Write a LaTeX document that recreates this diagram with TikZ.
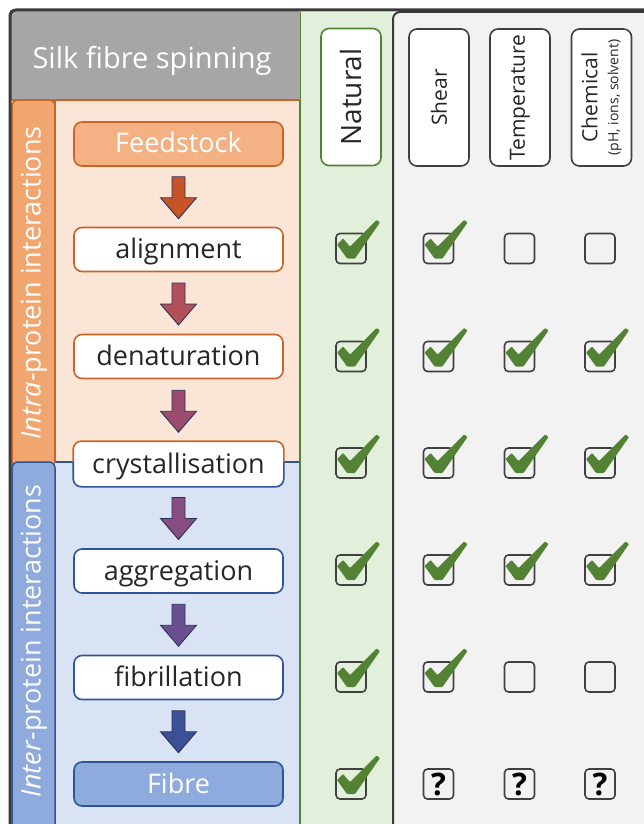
\documentclass[tikz,border=0pt]{standalone}
\usepackage{fontspec}
\setmainfont{Open Sans}
\usetikzlibrary{calc}
\definecolor{framedark}{RGB}{58,58,58}
\definecolor{headgrey}{RGB}{166,166,166}
\definecolor{striporange}{RGB}{241,166,112}
\definecolor{peach}{RGB}{251,229,214}
\definecolor{orangeline}{RGB}{200,100,40}
\definecolor{stripblue}{RGB}{143,170,220}
\definecolor{lightblue}{RGB}{218,227,243}
\definecolor{blueline}{RGB}{47,85,151}
\definecolor{lightgreen}{RGB}{226,239,218}
\definecolor{greenline}{RGB}{84,130,53}
\definecolor{rightgrey}{RGB}{242,242,242}
\definecolor{boxgrey}{RGB}{64,64,64}
\definecolor{textdark}{RGB}{38,38,38}
\definecolor{checkgreen}{RGB}{84,130,53}
\definecolor{feedfill}{RGB}{244,177,131}
\definecolor{fibrefill}{RGB}{143,170,220}
\definecolor{arrowline}{RGB}{40,50,90}
\definecolor{arA}{RGB}{197,85,40}
\definecolor{arB}{RGB}{178,80,90}
\definecolor{arC}{RGB}{155,75,110}
\definecolor{arD}{RGB}{135,78,130}
\definecolor{arE}{RGB}{105,80,145}
\definecolor{arF}{RGB}{60,80,150}
\newcommand\flowfont{\fontsize{27}{32}\selectfont}
\newcommand\mytick[1]{\fill[checkgreen, rounded corners=0.8pt] ($(#1)+(-14,-4)$) -- ($(#1)+(-8,-10)$) -- ($(#1)+(-1,-2)$) -- ($(#1)+(25.5,-28.5)$) -- ($(#1)+(29,-26)$) -- ($(#1)+(4,10)$) -- ($(#1)+(-4,10)$) -- cycle;}
\newcommand\flowarrow[3]{%
  \coordinate (m) at ($(#1.south)!0.5!(#2.north)$);
  \filldraw[fill=#3, draw=arrowline, line width=0.9pt, line join=miter]
    ($(m)+(-6.5,-20)$) -- ($(m)+(6.5,-20)$) -- ($(m)+(6.5,1)$) -- ($(m)+(18,1)$)
    -- ($(m)+(0,22)$) -- ($(m)+(-18,1)$) -- ($(m)+(-6.5,1)$) -- cycle;}
\tikzset{
  cbox/.style={draw=boxgrey, line width=1.6pt, rounded corners=4pt, minimum size=30pt, inner sep=0pt},
  flowbox/.style={draw, line width=1.6pt, rounded corners=8pt, minimum width=209pt, minimum height=44pt,
    fill=white, font=\flowfont, text=textdark, inner sep=0pt, text height=22pt, text depth=4pt},
  hdrbox/.style={rotate=90, draw=boxgrey, line width=1.6pt, rounded corners=8pt, minimum width=137pt,
    minimum height=60pt, fill=white, inner sep=0pt, text=textdark},
  sidelabel/.style={rotate=90, text=white, font=\fontsize{27}{32}\selectfont, inner sep=0pt},
  qmark/.style={font=\bfseries\fontsize{31}{34}\selectfont, text=black, inner sep=0pt},
}
\begin{document}
\begin{tikzpicture}[x=1pt,y=-1pt]
\useasboundingbox (0,0) rectangle (644,824);
% right grey area
\filldraw[fill=rightgrey, draw=framedark, line width=2pt, rounded corners=7pt] (393,12) rectangle (660,840);
% green column
\fill[lightgreen] (300,12) rectangle (392,840);
\draw[greenline, line width=2pt] (300,12) -- (300,840);
% header
\fill[headgrey] (10,10) rectangle (300,100);
\node[text=white, font=\fontsize{29}{34}\selectfont] (title) at (152,61) {Silk fibre spinning};
% orange region
\fill[peach] (55,100) rectangle (299,462);
\filldraw[fill=striporange, draw=orangeline, line width=1.5pt, rounded corners=6pt] (12,100) rectangle (55,470);
\fill[peach] (56,101) rectangle (299,462);
% blue region
\fill[lightblue] (55,462) rectangle (299,840);
\filldraw[fill=stripblue, draw=blueline, line width=1.5pt, rounded corners=6pt] (12,462) rectangle (55,850);
\fill[lightblue] (56,463) rectangle (299,840);
\draw[orangeline, line width=2pt] (12,100) -- (299,100);
\draw[blueline, line width=1.5pt] (55,462) -- (299,462);
\draw[orangeline, line width=1.5pt] (55,100) -- (55,462);
% outer frame
\draw[framedark, line width=3pt, rounded corners=6pt] (10,840) -- (10,10) -- (660,10);
% side labels
\node[sidelabel] (intra) at (34,283) {\textit{Intra}-protein interactions};
\node[sidelabel] (inter) at (34,641) {\textit{Inter}-protein interactions};
% flow boxes
\node[flowbox, draw=orangeline, fill=feedfill, text=white] (feed) at (178.5,144) {Feedstock};
\node[flowbox, draw=orangeline] (align) at (178.5,249.5) {alignment};
\node[flowbox, draw=orangeline] (denat) at (178.5,356.5) {denaturation};
\node[flowbox, draw=none] (cryst) at (178.5,464) {crystallisation};
\begin{scope}
  \clip (0,0) rectangle (644,462);
  \draw[orangeline, line width=1.6pt, rounded corners=8pt] (cryst.south west) rectangle (cryst.north east);
\end{scope}
\begin{scope}
  \clip (0,462) rectangle (644,824);
  \draw[blueline, line width=1.6pt, rounded corners=8pt] (cryst.south west) rectangle (cryst.north east);
\end{scope}
\node[flowbox, draw=blueline] (aggr) at (178.5,571) {aggregation};
\node[flowbox, draw=blueline] (fibril) at (178.5,677.5) {fibrillation};
\node[flowbox, draw=blueline, fill=fibrefill, text=white] (fibre) at (178.5,784) {Fibre};
% arrows
\flowarrow{feed}{align}{arA}
\flowarrow{align}{denat}{arB}
\flowarrow{denat}{cryst}{arC}
\flowarrow{cryst}{aggr}{arD}
\flowarrow{aggr}{fibril}{arE}
\flowarrow{fibril}{fibre}{arF}
% column headers
\node[hdrbox, draw=greenline, font=\fontsize{28}{32}\selectfont] (natural) at (351,97) {Natural};
\node[hdrbox, font=\fontsize{21}{24}\selectfont] (shear) at (439,97.5) {Shear};
\node[hdrbox, font=\fontsize{21}{24}\selectfont] (temp) at (520,97.5) {Temperature};
\node[hdrbox, font=\fontsize{21}{25}\selectfont, align=center] (chem) at (601.5,97.5)
  {Chemical\\[-4pt]{\fontsize{14}{16}\selectfont (pH, ions, solvent)}};
% check boxes
\foreach \r/\y in {1/248.5,2/356.5,3/463,4/570,5/677,6/784}{
  \foreach \c/\x in {1/351,2/438.5,3/519.5,4/600}{
    \node[cbox] (cb-\r-\c) at (\x,\y) {};
  }
}
\foreach \r/\c in {1/1,1/2,2/1,2/2,2/3,2/4,3/1,3/2,3/3,3/4,4/1,4/2,4/3,4/4,5/1,5/2,6/1}{
  \mytick{cb-\r-\c.center}
}
\node[qmark] (q-2) at (cb-6-2.center) {?};
\node[qmark] (q-3) at (cb-6-3.center) {?};
\node[qmark] (q-4) at (cb-6-4.center) {?};
\end{tikzpicture}
\end{document}
